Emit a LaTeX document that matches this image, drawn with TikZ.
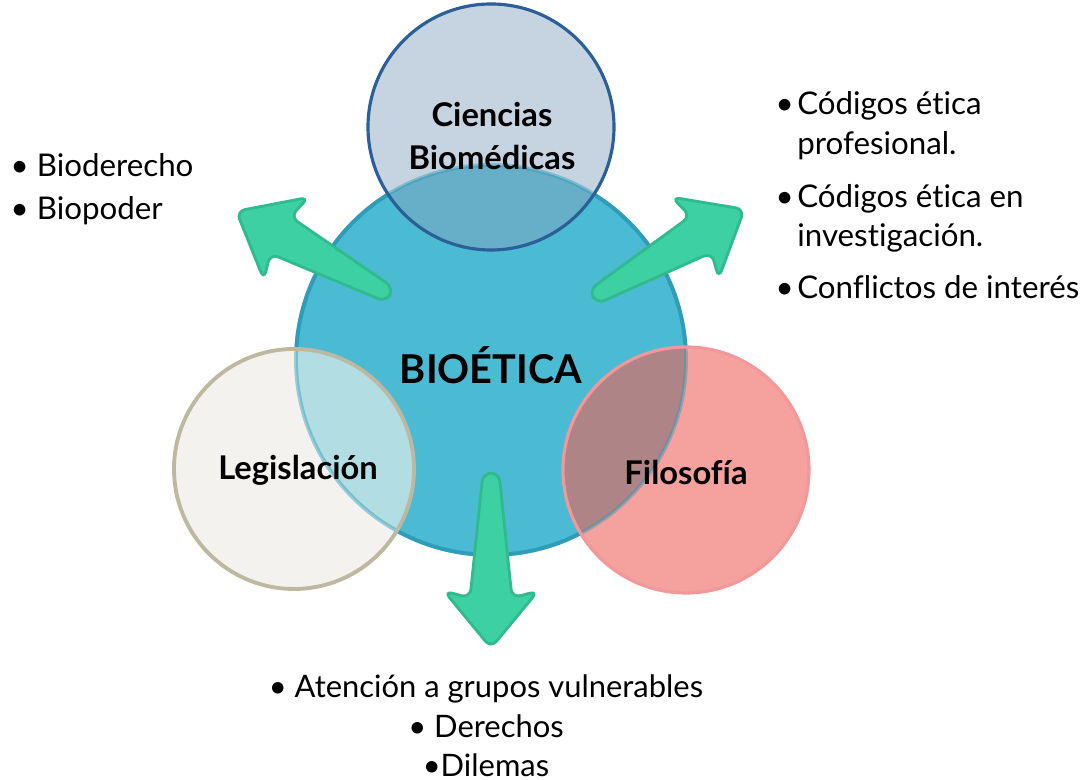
\documentclass[tikz,border=0pt]{standalone}
\usepackage{fontspec}
\setmainfont{Lato}[Ligatures=NoCommon]
\usepackage{xcolor}
\usetikzlibrary{positioning,calc}

\definecolor{bioFill}{HTML}{4BBAD3}
\definecolor{bioLine}{HTML}{2F9CB8}
\definecolor{cienFill}{HTML}{C6D3E1}
\definecolor{cienLine}{HTML}{2B5F98}
\definecolor{cienMix}{HTML}{67AEC8}
\definecolor{legFill}{HTML}{F4F2EF}
\definecolor{legLine}{HTML}{BDB8A0}
\definecolor{legMix}{HTML}{B1DDE3}
\definecolor{filFill}{HTML}{F5A19D}
\definecolor{filLine}{HTML}{F2979A}
\definecolor{filMix}{HTML}{AF8487}
\definecolor{arrFill}{HTML}{3DD0A3}
\definecolor{arrLine}{HTML}{2FBB8E}

\begin{document}
\begin{tikzpicture}[
    circlabel/.style={font=\bfseries\fontsize{9.3}{12}\selectfont, align=center, text=black},
    bullets/.style={font=\fontsize{8.9}{11.2}\selectfont, text=black, inner sep=0pt},
    greenarrow/.pic={
      \filldraw[fill=arrFill, draw=arrLine, line width=0.8pt, rounded corners=2.5pt]
        (0,-0.08) -- (1.25,-0.21) -- (1.18,-0.47) -- (1.75,0) -- (1.18,0.47) -- (1.25,0.21) -- (0,0.08) -- cycle;
    }
  ]
  \useasboundingbox (0,0) rectangle (10.82,7.80);

  % centres
  \coordinate (cBio) at (4.91,4.20);
  \coordinate (cCien) at (4.91,6.53);
  \coordinate (cLeg) at (2.94,3.11);
  \coordinate (cFil) at (6.86,3.10);

  % circles
  \draw[fill=bioFill, draw=bioLine, line width=1.1pt] (cBio) circle (1.95);
  \fill[cienFill] (cCien) circle (1.23);
  \fill[legFill] (cLeg) circle (1.20);
  \fill[filFill] (cFil) circle (1.23);
  \begin{scope}
    \clip (cBio) circle (1.95);
    \fill[cienMix] (cCien) circle (1.23);
    \fill[legMix] (cLeg) circle (1.20);
    \fill[filMix] (cFil) circle (1.23);
  \end{scope}
  \draw[bioLine, line width=1.1pt, opacity=0.45] (cBio) circle (1.95);
  \draw[cienLine, line width=0.9pt] (cCien) circle (1.23);
  \draw[legLine, line width=1.1pt] (cLeg) circle (1.20);
  \draw[filLine, line width=0.9pt] (cFil) circle (1.23);

  % arrows
  \coordinate (tailL) at (3.90,4.85);
  \coordinate (tailR) at (5.93,4.83);
  \coordinate (tailB) at (4.91,3.07);
  \pic[rotate=151.4] at (tailL) {greenarrow};
  \pic[rotate=30.1] at (tailR) {greenarrow};
  \pic[rotate=-90] at (tailB) {greenarrow};

  % labels
  \node[circlabel] (cien) at (4.92,6.44) {Ciencias\\Biomédicas};
  \node[circlabel, font=\bfseries\fontsize{11.3}{13}\selectfont] (bio) at (4.91,4.15) {BIOÉTICA};
  \node[circlabel] (leg) at (2.98,3.10) {Legislación};
  \node[circlabel] (fil) at (6.86,3.07) {Filosofía};

  % lists
  \node[bullets, anchor=west, align=left] (listL) at (0.10,5.91)
    {\textbullet\ Bioderecho\\[1pt] \textbullet\ Biopoder};
  \node[bullets, anchor=north west, align=left] (listR) at (7.75,6.89)
    {\textbullet\hspace{1pt}Códigos ética\\ \phantom{\textbullet\hspace{1pt}}profesional.\\[3.9pt]
     \textbullet\hspace{1pt}Códigos ética en\\ \phantom{\textbullet\hspace{1pt}}investigación.\\[3.6pt]
     \textbullet\hspace{1pt}Conflictos de interés};
  \node[bullets, anchor=north, align=center, font=\fontsize{8.8}{11.3}\selectfont] (listB) at (4.86,1.06)
    {\textbullet\ Atención a grupos vulnerables\\ \textbullet\ Derechos\\ \textbullet Dilemas};
\end{tikzpicture}
\end{document}
